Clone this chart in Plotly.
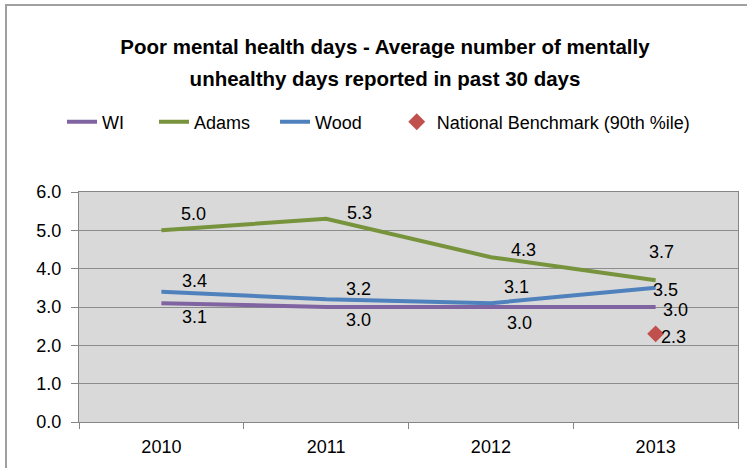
import plotly.graph_objects as go

years = ["2010", "2011", "2012", "2013"]
wi = [3.1, 3.0, 3.0, 3.0]
adams = [5.0, 5.3, 4.3, 3.7]
wood = [3.4, 3.2, 3.1, 3.5]
bench_years = ["2013"]
bench = [2.3]

FONT = "Liberation Sans, Arial, sans-serif"
W, H = 747, 468
L, R, T, B = 79, 9, 192, 46
NB = "\u00a0"

fig = go.Figure()
fig.add_trace(go.Scatter(x=years, y=wi, name="WI" + NB * 5, mode="lines",
                         line=dict(color="#8064A2", width=4)))
fig.add_trace(go.Scatter(x=years, y=adams, name="Adams" + NB * 4, mode="lines",
                         line=dict(color="#77933C", width=4)))
fig.add_trace(go.Scatter(x=years, y=wood, name="Wood" + NB * 6, mode="lines",
                         line=dict(color="#4F81BD", width=4)))
fig.add_trace(go.Scatter(x=bench_years, y=bench, name="National Benchmark (90th %ile)",
                         mode="markers",
                         marker=dict(symbol="diamond", color="#C0504D", size=13)))

# data labels (pixel offsets from each point)
label_shifts = {
    "adams": [(32, 16), (33, 6), (33, 7), (6, 28)],
    "wood": [(33, 11), (32, 10), (26, 16), (10, -2)],
    "wi": [(33, -14), (32, -13), (29, -16), (20, -3)],
    "bench": [(18, -3)],
}
series = {"adams": (years, adams), "wood": (years, wood), "wi": (years, wi),
          "bench": (bench_years, bench)}
for key, (xs, ys) in series.items():
    for (xv, yv), (dx, dy) in zip(zip(xs, ys), label_shifts[key]):
        fig.add_annotation(x=years.index(xv), y=yv, xref="x", yref="y",
                           text=f"{yv:.1f}", showarrow=False, xshift=dx, yshift=dy,
                           font=dict(family=FONT, size=18, color="#000000"))

# chart border
pw, ph = W - L - R, H - T - B
fig.add_shape(type="rect", xref="paper", yref="paper",
              x0=(6 - L) / pw, x1=(752 - L) / pw,
              y0=(H - B - 475) / ph, y1=(H - B - 5) / ph,
              line=dict(color="#A0A0A0", width=2), layer="below")

title_txt = ("<b><span style='font-size:20.5px'>Poor mental health days - Average number of mentally</span>"
             "<br><span style='font-size:20.5px'>unhealthy days reported in past 30 days</span></b>")

fig.update_layout(
    width=W, height=H,
    margin=dict(l=L, r=R, t=T, b=B),
    paper_bgcolor="#FFFFFF",
    plot_bgcolor="#D9D9D9",
    font=dict(family=FONT, size=18, color="#000000"),
    title=dict(text=title_txt,
               x=385 / W, xanchor="center", y=1 - 53.5 / H, yanchor="middle",
               font=dict(family=FONT, size=25, color="#000000")),
    showlegend=True,
    legend=dict(orientation="h", x=(62 - L) / pw, xanchor="left",
                y=(H - B - 122) / ph, yanchor="middle",
                font=dict(family=FONT, size=18, color="#000000"),
                bgcolor="rgba(0,0,0,0)", itemwidth=30),
    xaxis=dict(type="category", range=[-0.5, 3.5], showgrid=False,
               showline=True, linecolor="#868686", linewidth=1, mirror=True,
               ticks="outside", tickson="boundaries", ticklen=6, tickcolor="#868686",
               tickfont=dict(family=FONT, size=18, color="#000000"),
               ticklabelstandoff=8),
    yaxis=dict(range=[0, 6], dtick=1, tickformat=".1f", showgrid=True,
               gridcolor="#8C8C8C", gridwidth=1,
               showline=True, linecolor="#868686", linewidth=1, mirror=True,
               ticks="outside", ticklen=7, tickcolor="#868686", zeroline=False,
               tickfont=dict(family=FONT, size=18, color="#000000"),
               ticklabelstandoff=6),
)

fig.write_html("out.html", config={"displayModeBar": False},
               post_script="document.body.style.margin='0px';")
